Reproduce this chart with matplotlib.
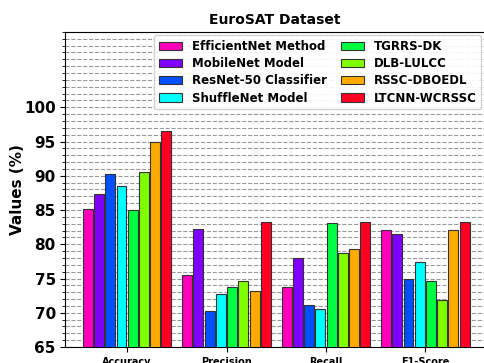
import numpy as np
import matplotlib
matplotlib.use("Agg")
import matplotlib.pyplot as plt
from matplotlib.ticker import MultipleLocator

metrics = ["Accuracy", "Precision", "Recall", "F1-Score"]
models = ["EfficientNet Method", "MobileNet Model", "ResNet-50 Classifier",
          "ShuffleNet Model", "TGRRS-DK", "DLB-LULCC", "RSSC-DBOEDL", "LTCNN-WCRSSC"]
colors = ["#FF00BB", "#8000FF", "#0050FF", "#00FFFF",
          "#00FF40", "#80FF00", "#FFAA00", "#FF0022"]

efficientnet = [85.1, 75.5, 73.7, 82.1]
mobilenet = [87.4, 82.2, 78.0, 81.5]
resnet50 = [90.2, 70.3, 71.1, 75.0]
shufflenet = [88.5, 72.7, 70.6, 77.4]
tgrrs = [85.0, 73.7, 83.1, 74.7]
dlb = [90.5, 74.6, 78.7, 71.8]
rssc = [94.9, 73.2, 79.3, 82.1]
ltcnn = [96.5, 83.3, 83.2, 83.3]

series = [efficientnet, mobilenet, resnet50, shufflenet, tgrrs, dlb, rssc, ltcnn]

fig = plt.figure(figsize=(4.85, 3.63), dpi=100)
ax = fig.add_axes([0.135, 0.044, 0.865, 0.868])

x = np.arange(len(metrics))
step = 0.113
width = 0.1
for i, vals in enumerate(series):
    ax.bar(x + (i - 3.5) * step, vals, width, color=colors[i],
           edgecolor="#333333", linewidth=0.8, label=models[i], zorder=3)

ax.set_ylim(65, 111)
ax.set_xlim(-0.62, 3.6)
ax.set_yticks(np.arange(65, 101, 5))
ax.yaxis.set_minor_locator(MultipleLocator(1))
ax.grid(True, axis="y", which="both", linestyle="--", color="#999999", linewidth=0.8, zorder=0)
ax.set_xticks(x)
ax.set_xticklabels(metrics, fontsize=7, fontweight="bold")
for lab in ax.get_yticklabels():
    lab.set_fontweight("bold")
    lab.set_fontsize(11)
ax.set_ylabel("Values (%)", fontsize=11, fontweight="bold", labelpad=-1)
ax.set_title("EuroSAT Dataset", fontsize=10, fontweight="bold")

ax.legend(ncol=2, loc="upper right", prop={"weight": "bold", "size": 8.5},
          handlelength=2.0, columnspacing=1.2, labelspacing=0.35,
          borderaxespad=0.3, framealpha=0.9)

fig.savefig("out.png", dpi=100)
